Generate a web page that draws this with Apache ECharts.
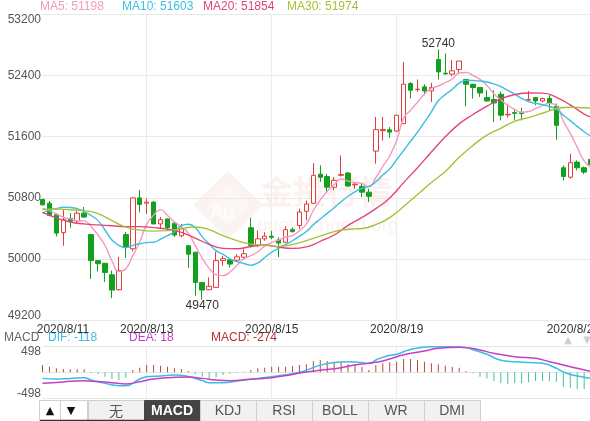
<!DOCTYPE html>
<html><head><meta charset="utf-8">
<script src="https://cdn.jsdelivr.net/npm/echarts@6/dist/echarts.min.js"></script>
<style>html,body{margin:0;padding:0;background:#fff;overflow:hidden}#c{width:590px;height:421px}</style>
</head><body><div id="c"></div>
<script>
// ---- tick labels ----
const dateTicks = {0:'2020/8/11', 15:'2020/8/13', 33:'2020/8/15', 51:'2020/8/19', 75:'2020/8/24'};
const gridDates = [15, 33, 51];
const priceMin = 49200, priceMax = 53200, priceStep = 800;
const macdMin = -498, macdMax = 498;

// ---- candles ----
const openVals = [50780,50730,50580,50345,50530,50500,50600,50320,49980,49945, 49795,49600,50320,50135,50800,50730,50745,50460,50525,50470,
 50305,50175,50090,49695,49600,49630,49980,49990,49985,50025, 50410,50175,50265,50300,50250,50220,50385,50440,50625,50730,
 51110,51080,50940,51095,51125,50970,50950,50875,51412,51680, 51690,51674,51771,52295,52215,52251,52198,52610,52430,52417,
 52479,52348,52286,52243,52112,52086,52155,51885,51915,51912, 52080,52112,52067,52099,51998,51194,51071,51268,51194,51303];
const closeVals = [50710,50570,50340,50516,50490,50600,50550,49980,49940,49825, 49595,49850,50155,50800,50715,50745,50460,50515,50410,50315,
 50395,50065,49695,49595,49645,49980,50005,49935,50030,50070, 50180,50265,50300,50285,50210,50385,50360,50615,50720,51095,
 51070,50940,51030,51105,50955,50980,50875,50820,51692,51695, 51660,51880,52286,52208,52221,52198,52243,52447,52420,52461,
 52588,52286,52243,52172,52067,52041,51880,51893,51905,51902, 52086,52067,52099,52033,51749,51080,51260,51194,51137,51237];
const lowVals = [50700,50560,50295,50175,50410,50470,50540,49740,49840,49700, 49490,49590,50015,50100,50610,50590,50455,50390,50375,50290,
 50285,49885,49520,49470,49595,49625,49915,49890,49960,49990, 50150,50155,50240,50260,50025,50210,50345,50395,50505,50720,
 51010,50875,50900,51080,50945,50920,50810,50745,51247,51550, 51587,51661,51765,52099,52185,52142,52054,52348,52417,52391,
 52417,51998,52099,52120,52060,51792,51814,51850,51814,51814, 52068,52011,52050,51945,51561,51028,51050,51159,51110,51200];
const highVals = [50790,50760,50600,50648,50600,50640,50680,50330,49985,49950, 49850,50030,50355,50810,50905,50790,50760,50550,50530,50470,
 50460,50180,50095,49700,49760,50095,50040,49995,50065,50130, 50540,50375,50350,50370,50285,50430,50415,50660,50765,51255,
 51225,51115,51070,51355,51140,51005,50985,50920,51858,51858, 51726,51890,52579,52316,52348,52286,52303,52740,52689,52601,
 52590,52350,52290,52245,52208,52208,52190,52024,51968,51980, 52198,52112,52110,52142,52033,51224,51378,51290,51210,51340];

// ---- moving averages ----
const ma5 = [50661,50634,50591,50547,50525,50503,50499,50427,50312,50179, 49978,49838,49873,50045,50223,50453,50575,50647,50569,50489,
 50419,50340,50176,50013,49879,49796,49784,49832,49919,50004, 50044,50096,50169,50220,50248,50289,50308,50371,50458,50635,
 50772,50888,50971,51048,51020,51002,50989,50947,51064,51212, 51348,51549,51843,51946,52051,52159,52231,52263,52306,52354,
 52432,52440,52400,52350,52271,52162,52081,52011,51954,51920, 51929,51966,52007,52036,52007,51806,51644,51463,51284,51198];
const ma10 = [50600,50640,50661,50678,50674,50660,50621,50570,50503,50380, 50250,50180,50150,50179,50201,50216,50220,50260,50307,50356,
 50436,50455,50412,50291,50200,50108,50062,50004,49966,49942, 49920,49950,50020,50090,50140,50190,50240,50300,50360,50450,
 50525,50598,50672,50750,50822,50880,50925,50950,51010,51100, 51178,51300,51420,51540,51660,51790,51925,52070,52150,52220,
 52300,52336,52335,52328,52315,52290,52255,52205,52155,52100, 52060,52035,52020,51995,51963,51880,51810,51735,51665,51603];
const ma20 = [[0,50612],[2,50540],[4,50485],[6,50460],[8,50447],[10,50435],[12,50425],[14,50425],[16,50412],[18,50392],[20,50350],
 [22,50275],[24,50192],[26,50140],[28,50135],[30,50165],[32,50185],[34,50156],[36,50140],[38,50160],[40,50233],[42,50315],[44,50440],
 [46,50545],[48,50660],[50,50800],[52,51000],[54,51195],[56,51400],[58,51598],[60,51768],[62,51890],[64,52000],[66,52095],[68,52150],
 [70,52171],[72,52169],[74,52115],[76,52015],[78,51896],[79,51854]];
const ma30 = [[0,50648],[2,50655],[4,50645],[6,50634],[8,50595],[10,50503],[12,50418],[14,50379],[16,50366],[18,50372],[20,50400],
 [22,50420],[24,50385],[26,50306],[28,50241],[30,50195],[32,50180],[34,50166],[36,50190],[38,50241],[40,50300],[42,50360],[44,50390],
 [46,50400],[48,50451],[50,50543],[52,50687],[54,50844],[56,51002],[58,51146],[60,51330],[62,51487],[64,51620],[66,51710],[68,51801],
 [70,51850],[72,51906],[74,51965],[76,51985],[78,51978],[79,51974]];

// ---- MACD ----
const macdBars = [143,110,78,65,58,58,58,-19,-39,-84, -130,-149,-104,45,91,143,143,130,110,78,
 65,26,-39,-84,-117,-97,-52,-26,-13,13, 45,78,91,110,110,110,123,143,156,220,
 240,220,194,207,156,156,110,45,143,175, 194,207,259,259,240,207,175,156,130,110,
 91,26,-19,-84,-117,-168,-214,-233,-214,-214, -194,-168,-168,-168,-181,-279,-298,-324,-324,-285];
const difLine = [[0,-117],[2,-130],[4,-117],[6,-104],[7,-149],[9,-214],[11,-259],[12,-259],[14,-130],[15,-84],[17,-71],[19,-52],
 [21,-80],[23,-160],[24,-201],[26,-200],[28,-170],[29,-149],[31,-117],[33,-84],[35,-45],[37,0],[38,40],[40,140],[42,190],[44,205],
 [46,190],[47,170],[48,240],[49,290],[50,330],[51,350],[52,400],[53,445],[54,475],[56,495],[58,497],[60,490],[61,480],[62,440],
 [64,350],[66,235],[68,205],[70,190],[72,175],[74,80],[75,10],[76,-40],[78,-95],[79,-118]];
const deaLine = [[0,-214],[3,-185],[6,-165],[8,-180],[10,-200],[12,-225],[14,-181],[16,-130],[19,-97],[21,-91],[23,-117],[25,-149],
 [27,-162],[30,-132],[33,-104],[36,-40],[38,5],[40,40],[43,91],[45,143],[48,194],[50,259],[52,340],[55,415],[57,466],[60,486],
 [61,480],[63,434],[65,369],[68,305],[71,272],[73,207],[75,143],[77,78],[79,18]];

// ---- texts ----
const maLegend = [['MA5: 51198','#f39ac0',40],['MA10: 51603','#3bbfe0',122],['MA20: 51854','#e2457a',203],['MA30: 51974','#a4c23a',287]];
const macdLegend = [['MACD','#666',4],['DIF: -118','#3bbde4',48],['DEA: 18','#c43fc6',129],['MACD: -274','#b83232',211]];
const tabs = ['无','MACD','KDJ','RSI','BOLL','WR','DMI'];
const activeTab = 'MACD';

const FONT = '"Liberation Sans", Arial, "Noto Sans CJK SC", sans-serif';
const categories = openVals.map((_, i) => String(i));
const candles = openVals.map((o, i) => [o, closeVals[i], lowVals[i], highVals[i]]);

const gridL = 42.5, gridW = 548.6;
const splitInt = (i) => gridDates.indexOf(i) >= 0;

const graphics = [];
// watermark
graphics.push({type:'polygon', z:-10, shape:{points:[[228,171],[263,205],[228,239],[193,205]]},
  style:{fill:'rgba(226,170,155,0.14)'}});
graphics.push({type:'polygon', z:-10, shape:{points:[[228,184],[249,205],[228,226],[207,205]]},
  style:{fill:'rgba(255,255,255,0.3)'}});
graphics.push({type:'text', z:-10, x:222, y:213, style:{text:'Au', fill:'rgba(255,255,255,0.95)', font:'20px '+FONT, align:'center', verticalAlign:'middle'}});
graphics.push({type:'text', z:-10, x:260, y:191, style:{text:'金投行情', fill:'rgba(226,165,150,0.14)', font:'bold 33px "Noto Sans CJK SC"', align:'left', verticalAlign:'middle'}});
graphics.push({type:'text', z:-10, x:257, y:226, style:{text:'quote.cngold.org', fill:'rgba(226,165,150,0.15)', font:'19px '+FONT, align:'left', verticalAlign:'middle'}});
// legends
maLegend.forEach(([t,c,x]) => graphics.push({type:'text', x:x, y:7, style:{text:t, fill:c, font:'12px '+FONT, verticalAlign:'middle'}}));
macdLegend.forEach(([t,c,x]) => graphics.push({type:'text', x:x, y:338, style:{text:t, fill:c, font:'12px '+FONT, verticalAlign:'middle'}}));
graphics.push({type:'text', x:568, y:340, style:{text:'▲', fill:'#cfcfcf', font:'10px "DejaVu Sans"', align:'center', verticalAlign:'middle'}});
graphics.push({type:'text', x:587, y:340, style:{text:'▼', fill:'#cfcfcf', font:'10px "DejaVu Sans"', align:'center', verticalAlign:'middle'}});
// toolbar
graphics.push({type:'rect', z:20, shape:{x:0,y:399,width:590,height:22}, style:{fill:'#fff'}});
graphics.push({type:'rect', z:21, shape:{x:39.5,y:400.5,width:21,height:22}, style:{fill:'#fff', stroke:'#d0d0d0'}});
graphics.push({type:'rect', z:21, shape:{x:60.5,y:400.5,width:27,height:22}, style:{fill:'#fff', stroke:'#d0d0d0'}});
graphics.push({type:'text', z:22, x:50, y:411, style:{text:'▲', fill:'#111', font:'11px "DejaVu Sans"', align:'center', verticalAlign:'middle'}});
graphics.push({type:'text', z:22, x:71, y:411, style:{text:'▼', fill:'#111', font:'11px "DejaVu Sans"', align:'center', verticalAlign:'middle'}});
tabs.forEach((t, k) => {
  const x0 = 88 + k * 56;
  const act = t === activeTab;
  graphics.push({type:'rect', z:21, shape:{x:x0+0.5,y:400.5,width:56,height:22}, style:{fill: act ? '#444' : '#f1f1f1', stroke: act ? '#444' : '#cfcfcf'}});
  graphics.push({type:'text', z:22, x:x0+28, y:411, style:{text:t, fill: act ? '#fff' : '#555',
    font:(act ? 'bold ' : '') + '14px ' + (t === '无' ? '"Noto Sans CJK SC"' : FONT), align:'center', verticalAlign:'middle'}});
});
graphics.push({type:'line', z:22, shape:{x1:40,y1:420.5,x2:147,y2:420.5}, style:{stroke:'#333', lineWidth:1.5}});

const option = {
  animation: false,
  backgroundColor: '#fff',
  textStyle: {fontFamily: FONT},
  grid: [
    {left: gridL, width: gridW, top: 14.3, height: 306, outerBoundsMode: 'none', containLabel: false},
    {left: gridL, width: gridW, top: 346.7, height: 51.3, outerBoundsMode: 'none', containLabel: false}
  ],
  xAxis: [
    {type:'category', gridIndex:0, data:categories, boundaryGap:false,
     axisLine:{show:false}, axisTick:{show:false},
     axisLabel:{interval:(i) => dateTicks[i] !== undefined, margin:3, color:'#333', fontSize:12, hideOverlap:false,
       formatter:(v, i) => { const s = dateTicks[i] || ''; if (i === 0) return '{l|' + s + '}'; if (i === 75) return '{r|' + s + '}'; return s; },
       rich:{l:{padding:[0,0,0,41], color:'#333', fontSize:12}, r:{padding:[0,0,0,20], color:'#333', fontSize:12}}},
     splitLine:{show:true, interval:splitInt, lineStyle:{color:'#ececec', width:1}}},
    {type:'category', gridIndex:1, data:categories, boundaryGap:false,
     axisLine:{show:false}, axisTick:{show:false}, axisLabel:{show:false},
     splitLine:{show:true, interval:splitInt, lineStyle:{color:'#ececec', width:1}}}
  ],
  yAxis: [
    {type:'value', gridIndex:0, min:priceMin, max:priceMax, interval:priceStep/2,
     axisLine:{show:false}, axisTick:{show:false},
     axisLabel:{margin:1.5, color:'#555', fontSize:12,
       formatter:(v) => { if ((v - priceMin) % priceStep !== 0) return ''; if (v === priceMax) return '{t|' + v + '}'; if (v === priceMin) return '{b|' + v + '}'; return String(v); },
       rich:{t:{padding:[11,0,0,0], color:'#555', fontSize:12}, b:{padding:[0,0,10,0], color:'#555', fontSize:12}}},
     splitLine:{lineStyle:{color:['#e9e9e9','rgba(0,0,0,0)'], width:1}}},
    {type:'value', gridIndex:1, min:macdMin, max:macdMax, interval:macdMax,
     axisLine:{show:false}, axisTick:{show:false},
     axisLabel:{margin:1.5, color:'#555', fontSize:12,
       formatter:(v) => v === macdMax ? '{t|' + v + '}' : (v === macdMin ? '{b|' + v + '}' : ''),
       rich:{t:{padding:[9,0,0,0], color:'#555', fontSize:12}, b:{padding:[0,0,8,0], color:'#555', fontSize:12}}},
     splitLine:{lineStyle:{color:'#e6e6e6', width:1}}}
  ],
  series: [
    {type:'candlestick', xAxisIndex:0, yAxisIndex:0, data:candles, barWidth:5, clip:false,
     itemStyle:{color:'#ffffff', color0:'#12a01e', borderColor:'#e23c3c', borderColor0:'#12a01e', borderWidth:1},
     markPoint:{symbol:'circle', symbolSize:0, animation:false,
       label:{color:'#333', fontSize:12, distance:0},
       data:[{type:'max', valueDim:'highest', label:{position:'top'}},
             {type:'min', valueDim:'lowest', label:{position:'bottom'}}]}},
    {type:'line', name:'MA5', xAxisIndex:0, yAxisIndex:0, data:ma5, smooth:true, showSymbol:false, symbol:'none', lineStyle:{color:'#f39ac0', width:1.4}, z:3},
    {type:'line', name:'MA10', xAxisIndex:0, yAxisIndex:0, data:ma10, smooth:true, showSymbol:false, symbol:'none', lineStyle:{color:'#3bbfe0', width:1.4}, z:3},
    {type:'line', name:'MA20', xAxisIndex:0, yAxisIndex:0, data:ma20, smooth:true, showSymbol:false, symbol:'none', lineStyle:{color:'#e2457a', width:1.4}, z:3},
    {type:'line', name:'MA30', xAxisIndex:0, yAxisIndex:0, data:ma30, smooth:true, showSymbol:false, symbol:'none', lineStyle:{color:'#a4c23a', width:1.4}, z:3},
    {type:'bar', name:'MACD', xAxisIndex:1, yAxisIndex:1, data:macdBars, barWidth:1,
     itemStyle:{color:(p) => p.value >= 0 ? '#b8483c' : '#45c09a'}},
    {type:'line', name:'DIF', xAxisIndex:1, yAxisIndex:1, data:difLine, smooth:true, showSymbol:false, symbol:'none', lineStyle:{color:'#3bbde4', width:1.5}, z:3},
    {type:'line', name:'DEA', xAxisIndex:1, yAxisIndex:1, data:deaLine, smooth:true, showSymbol:false, symbol:'none', lineStyle:{color:'#c43fc6', width:1.5}, z:3}
  ],
  graphic: {elements: graphics}
};
const chart = echarts.init(document.getElementById('c'), null, {renderer:'canvas'});
chart.setOption(option);
</script></body></html>
